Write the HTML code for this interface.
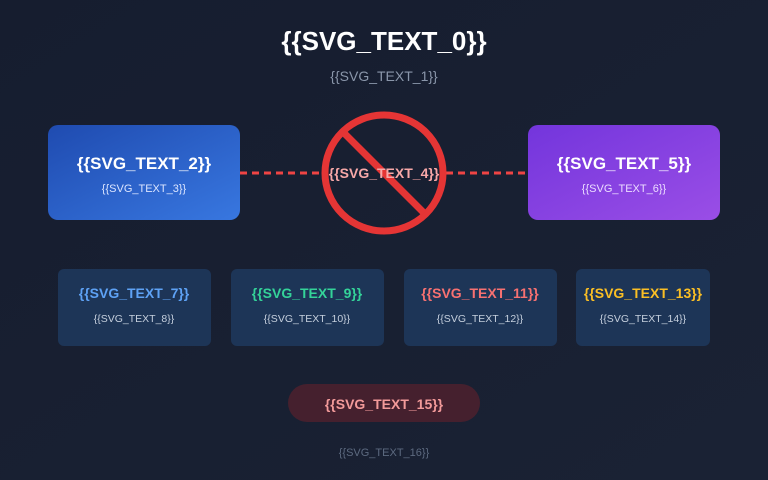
<!DOCTYPE html>
<html><head><meta charset="utf-8"><style>
html,body{margin:0;padding:0;background:#151c2c}
svg{display:block;font-family:"Liberation Sans",sans-serif}
</style></head><body>
<svg width="768" height="480" viewBox="0 0 768 480" xmlns="http://www.w3.org/2000/svg">
<defs>
<linearGradient id="bg" x1="0" y1="0" x2="1" y2="1"><stop offset="0" stop-color="#161d2f"/><stop offset="1" stop-color="#1a2234"/></linearGradient>
<linearGradient id="gb" x1="0" y1="0" x2="1" y2="1"><stop offset="0" stop-color="#1f4bb0"/><stop offset="1" stop-color="#3877e0"/></linearGradient>
<linearGradient id="gp" x1="0" y1="0" x2="1" y2="1"><stop offset="0" stop-color="#7335dc"/><stop offset="1" stop-color="#9a4ee6"/></linearGradient>
</defs>
<rect width="768" height="480" fill="url(#bg)"/>
<text x="384" y="50" text-anchor="middle" font-size="26" font-weight="bold" fill="#fff">{{SVG_TEXT_0}}</text>
<text x="384" y="81" text-anchor="middle" font-size="14" fill="#8a96aa">{{SVG_TEXT_1}}</text>
<line x1="240" y1="173" x2="322" y2="173" stroke="#ef4444" stroke-width="3" stroke-dasharray="7 5"/>
<line x1="446" y1="173" x2="528" y2="173" stroke="#ef4444" stroke-width="3" stroke-dasharray="7 5"/>
<rect x="48" y="125" width="192" height="95" rx="10" fill="url(#gb)"/>
<text x="144" y="169" text-anchor="middle" font-size="17" font-weight="bold" fill="#fff">{{SVG_TEXT_2}}</text>
<text x="144" y="192" text-anchor="middle" font-size="11" fill="#dbe5ff">{{SVG_TEXT_3}}</text>
<rect x="528" y="125" width="192" height="95" rx="10" fill="url(#gp)"/>
<text x="624" y="169" text-anchor="middle" font-size="17" font-weight="bold" fill="#fff">{{SVG_TEXT_5}}</text>
<text x="624" y="192" text-anchor="middle" font-size="11" fill="#ecdcff">{{SVG_TEXT_6}}</text>
<ellipse cx="384" cy="173" rx="59" ry="58" fill="none" stroke="#e53535" stroke-width="7"/>
<line x1="344" y1="133" x2="424" y2="213" stroke="#e53535" stroke-width="7"/>
<text x="384" y="178" text-anchor="middle" font-size="14" font-weight="bold" fill="#f8a8a8">{{SVG_TEXT_4}}</text>
<g font-size="14" font-weight="bold" text-anchor="middle">
<rect x="58" y="269" width="153" height="77" rx="6" fill="#1d3557"/>
<text x="134" y="298" fill="#5ea2f5">{{SVG_TEXT_7}}</text>
<rect x="231" y="269" width="153" height="77" rx="6" fill="#1d3557"/>
<text x="307" y="298" fill="#34d399">{{SVG_TEXT_9}}</text>
<rect x="404" y="269" width="153" height="77" rx="6" fill="#1d3557"/>
<text x="480" y="298" fill="#f87171">{{SVG_TEXT_11}}</text>
<rect x="576" y="269" width="134" height="77" rx="6" fill="#1d3557"/>
<text x="643" y="298" fill="#fbbf24">{{SVG_TEXT_13}}</text>
</g>
<g font-size="10.5" fill="#c5cfdd" text-anchor="middle">
<text x="134" y="322">{{SVG_TEXT_8}}</text>
<text x="307" y="322">{{SVG_TEXT_10}}</text>
<text x="480" y="322">{{SVG_TEXT_12}}</text>
<text x="643" y="322">{{SVG_TEXT_14}}</text>
</g>
<rect x="288" y="384" width="192" height="38" rx="19" fill="#45202e"/>
<text x="384" y="409" text-anchor="middle" font-size="14" font-weight="bold" fill="#f39a9a">{{SVG_TEXT_15}}</text>
<text x="384" y="456" text-anchor="middle" font-size="11" fill="#5d6a80">{{SVG_TEXT_16}}</text>
</svg>
</body></html>
